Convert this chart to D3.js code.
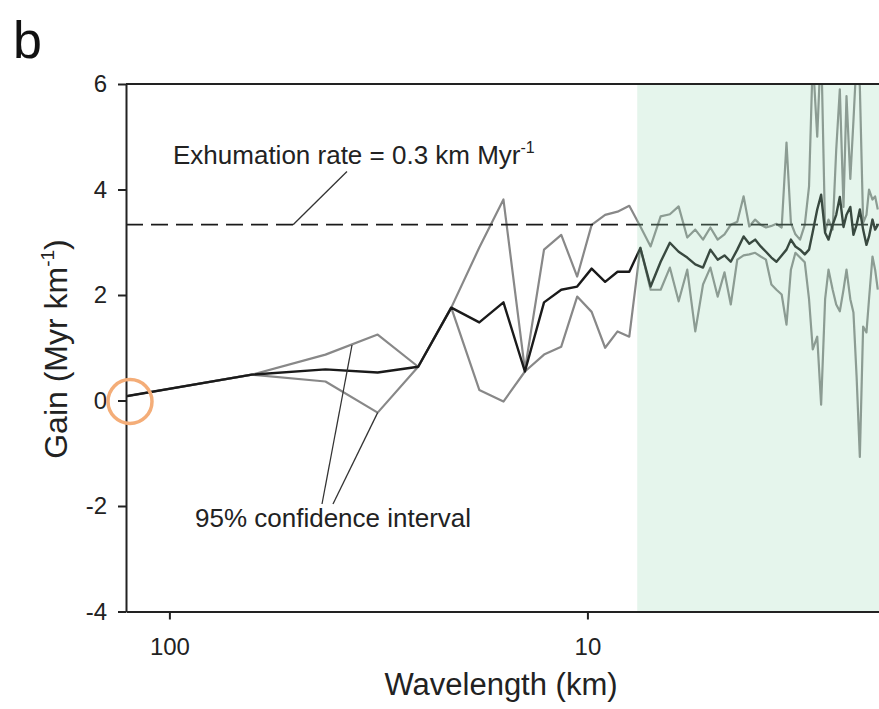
<!DOCTYPE html>
<html>
<head>
<meta charset="utf-8">
<script src="https://cdn.jsdelivr.net/npm/d3@7"></script>
<style>
  body { margin: 0; background: #fff; }
  svg { display: block; font-family: "Liberation Sans", Arial, sans-serif; }
</style>
</head>
<body>
<svg id="chart" width="879" height="709"></svg>
<script>
// wavelengths (km) of the spectral estimates
const wavelength = [127, 63.5, 42.33, 31.75, 25.4, 21.17, 18.14, 15.88, 14.11, 12.7,
  11.55, 10.58, 9.77, 9.07, 8.47, 7.94, 7.47, 7.06, 6.68, 6.35,
  6.05, 5.77, 5.52, 5.29, 5.08, 4.88, 4.70, 4.54, 4.38, 4.23,
  4.10, 3.97, 3.85, 3.74, 3.63, 3.53, 3.43, 3.34, 3.26, 3.18,
  3.10, 3.02, 2.95, 2.89, 2.82, 2.76, 2.70, 2.65, 2.59, 2.54,
  2.49, 2.44, 2.40, 2.35, 2.31, 2.27, 2.23, 2.19, 2.15, 2.12,
  2.08, 2.05, 2.02];

// gain, best estimate
const gain = [0.08, 0.49, 0.59, 0.53, 0.64, 1.76, 1.48, 1.86, 0.55, 1.86,
  2.10, 2.16, 2.50, 2.25, 2.44, 2.44, 2.89, 2.16, 2.63, 2.99,
  2.82, 2.71, 2.58, 2.52, 2.86, 2.67, 2.75, 2.63, 2.86, 3.11,
  2.97, 3.05, 2.92, 2.82, 2.71, 2.63, 2.75, 2.86, 3.05, 2.92,
  2.86, 2.77, 2.86, 3.20, 3.62, 3.90, 3.18, 3.05, 3.33, 3.52,
  3.86, 3.29, 3.52, 3.67, 3.14, 3.33, 3.62, 3.24, 2.95, 3.11,
  3.43, 3.24, 3.33];

// 95% confidence interval
const upper = [0.08, 0.49, 0.87, 1.25, 0.64, 1.76, 2.90, 3.81, 0.58, 2.86,
  3.14, 2.35, 3.33, 3.52, 3.58, 3.69, 3.30, 2.92, 3.49, 3.53,
  3.68, 3.09, 3.24, 3.05, 3.28, 3.05, 3.15, 3.33, 3.39, 3.87,
  3.30, 3.43, 3.33, 3.28, 3.31, 3.35, 3.28, 4.89, 3.37, 3.15,
  3.05, 3.33, 4.06, 6.5, 5.0, 6.8, 3.2, 3.43, 3.24, 4.75,
  5.9, 3.67, 5.77, 4.2, 5.3, 6.5, 5.95, 3.37, 3.52, 4.0,
  3.81, 3.87, 3.62];

const lower = [0.08, 0.49, 0.36, -0.23, 0.64, 1.76, 0.20, -0.02, 0.55, 0.87,
  1.02, 1.97, 1.68, 1.00, 1.31, 1.21, 2.90, 2.10, 2.10, 2.52,
  1.88, 2.48, 1.31, 2.20, 2.52, 1.97, 2.43, 1.82, 2.67, 2.75,
  2.77, 2.80, 2.73, 2.67, 2.20, 2.10, 2.01, 1.44, 2.48, 2.80,
  2.71, 2.62, 1.92, 0.97, 1.21, -0.08, 1.92, 2.48, 2.10, 1.82,
  1.69, 2.10, 2.48, 1.92, 1.67, 0.45, -1.07, 1.40, 1.29, 1.92,
  2.73, 2.48, 2.10];

const yTicks = [-4, -2, 0, 2, 4, 6];
const xTicks = [100, 10];
const exhumationRate = 0.3;   // km/Myr -> gain = 1 / rate
const shadeFrom = 7.6;        // km, shaded band towards short wavelengths

const svg = d3.select("#chart");
const pLeft = 126, pRight = 879.6, pTop = 84, pBottom = 611.5;

const x = d3.scaleLog().domain([127, 2.0]).range([pLeft, pRight]);
const y = d3.scaleLinear().domain([-4, 6]).range([pBottom, pTop]);

svg.append("defs").append("clipPath").attr("id", "plotClip")
  .append("rect")
  .attr("x", pLeft).attr("y", pTop)
  .attr("width", pRight - pLeft).attr("height", pBottom - pTop);

const plot = svg.append("g").attr("clip-path", "url(#plotClip)");

const line = (vals) => d3.line()
  .x((d, i) => x(wavelength[i]))
  .y(d => y(d))(vals);

// confidence interval
[upper, lower].forEach(vals => {
  plot.append("path")
    .attr("d", line(vals))
    .attr("fill", "none")
    .attr("stroke", "#888")
    .attr("stroke-width", 2.2)
    .attr("stroke-linejoin", "round");
});

// best estimate
plot.append("path")
  .attr("d", line(gain))
  .attr("fill", "none")
  .attr("stroke", "#1a1a1a")
  .attr("stroke-width", 2.4)
  .attr("stroke-linejoin", "round");

// exhumation rate reference
plot.append("line")
  .attr("x1", pLeft).attr("x2", pRight)
  .attr("y1", y(1 / exhumationRate)).attr("y2", y(1 / exhumationRate))
  .attr("stroke", "#1a1a1a")
  .attr("stroke-width", 1.6)
  .attr("stroke-dasharray", "17,8");

// shaded band laid over the lines
svg.append("rect")
  .attr("x", x(shadeFrom)).attr("y", pTop)
  .attr("width", pRight - x(shadeFrom)).attr("height", pBottom - pTop)
  .attr("fill", "#96d7b4")
  .attr("opacity", 0.25);

// frame
svg.append("line")
  .attr("x1", pLeft).attr("x2", pRight).attr("y1", pTop).attr("y2", pTop)
  .attr("stroke", "#222").attr("stroke-width", 2);

const yAxis = svg.append("g")
  .attr("transform", `translate(${pLeft},0)`)
  .call(d3.axisLeft(y).tickValues(yTicks).tickFormat(d => String(d))
    .tickSize(8).tickPadding(11).tickSizeOuter(0));

const xAxis = svg.append("g")
  .attr("transform", `translate(0,${pBottom})`)
  .call(d3.axisBottom(x).tickValues(xTicks).tickFormat(d => String(d))
    .tickSize(8).tickPadding(18).tickSizeOuter(0));

[yAxis, xAxis].forEach(g => {
  g.select(".domain").attr("stroke", "#222").attr("stroke-width", 2);
  g.selectAll(".tick line").attr("stroke", "#222").attr("stroke-width", 2);
  g.selectAll(".tick text")
    .attr("font-size", 24)
    .attr("font-family", "Liberation Sans, Arial, sans-serif")
    .attr("fill", "#222");
});

// panel letter
svg.append("text")
  .attr("x", 13).attr("y", 58)
  .attr("font-size", 52)
  .attr("fill", "#111")
  .text("b");

// axis titles
const yl = svg.append("text")
  .attr("transform", "translate(67,349) rotate(-90)")
  .attr("text-anchor", "middle")
  .attr("font-size", 32)
  .attr("fill", "#222");
yl.append("tspan").text("Gain (Myr km");
yl.append("tspan").attr("font-size", 19).attr("dy", -13).text("-1");
yl.append("tspan").attr("dy", 13).text(")");

svg.append("text")
  .attr("x", 501).attr("y", 695)
  .attr("text-anchor", "middle")
  .attr("font-size", 31)
  .attr("fill", "#222")
  .text("Wavelength (km)");

// annotations
const ex = svg.append("text")
  .attr("x", 173).attr("y", 164)
  .attr("font-size", 26)
  .attr("fill", "#222");
ex.append("tspan").text("Exhumation rate = 0.3 km Myr");
ex.append("tspan").attr("font-size", 16).attr("dy", -11).text("-1");

svg.append("line")
  .attr("x1", x(37.6)).attr("y1", y(4.34))
  .attr("x2", x(50.6)).attr("y2", y(1 / exhumationRate))
  .attr("stroke", "#333").attr("stroke-width", 1.3);

svg.append("text")
  .attr("x", 195).attr("y", 527)
  .attr("font-size", 26)
  .attr("fill", "#222")
  .text("95% confidence interval");

// leaders to upper and lower bounds
const ciLeaders = [
  { from: [352, 345], to: [322, 504] },
  { from: [x(wavelength[3]), y(lower[3])], to: [333, 504] }
];
ciLeaders.forEach(l => {
  svg.append("line")
    .attr("x1", l.from[0]).attr("y1", l.from[1])
    .attr("x2", l.to[0]).attr("y2", l.to[1])
    .attr("stroke", "#333").attr("stroke-width", 1.3);
});

// highlight ring at the longest wavelength
svg.append("circle")
  .attr("cx", x(wavelength[0]) + 4)
  .attr("cy", y(0) + 1)
  .attr("r", 22)
  .attr("fill", "none")
  .attr("stroke", "#f4ad78")
  .attr("stroke-width", 3.5);
</script>
</body>
</html>
